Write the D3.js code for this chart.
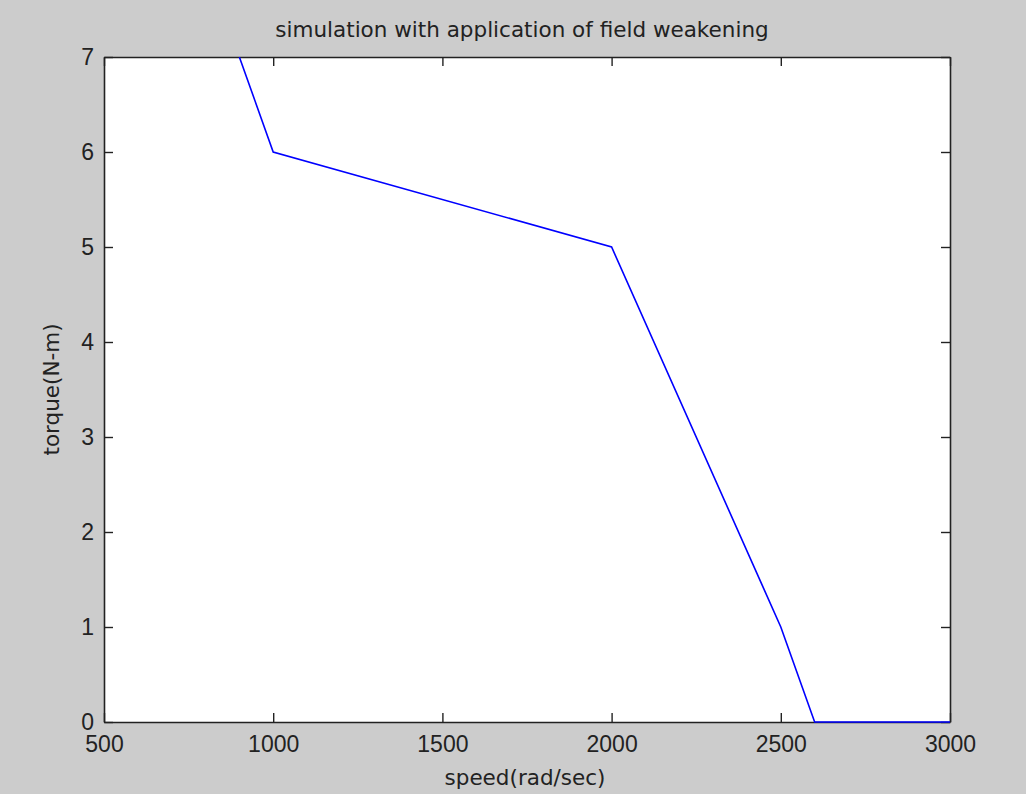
<!DOCTYPE html>
<html>
<head>
<meta charset="utf-8">
<script src="https://cdn.jsdelivr.net/npm/d3@7"></script>
<style>
  html, body { margin: 0; padding: 0; background: #cccccc; }
  svg { display: block; }
</style>
</head>
<body>
<svg id="chart" width="1026" height="794"></svg>
<script>
// Torque-speed curve with field weakening
const speed  = [900, 1000, 2000, 2500, 2600, 3000];
const torque = [7,   6,    5,    1,    0,    0];

const xTicks = [500, 1000, 1500, 2000, 2500, 3000];
const yTicks = [0, 1, 2, 3, 4, 5, 6, 7];

const titleText = "simulation with application of field weakening";
const xLabel = "speed(rad/sec)";
const yLabel = "torque(N-m)";

const plotLeft = 104, plotRight = 950, plotTop = 57, plotBottom = 722;

const svg = d3.select("#chart");

const x = d3.scaleLinear().domain([500, 3000]).range([plotLeft, plotRight]);
const y = d3.scaleLinear().domain([0, 7]).range([plotBottom, plotTop]);

// plot background
svg.append("rect")
  .attr("x", plotLeft).attr("y", plotTop)
  .attr("width", plotRight - plotLeft).attr("height", plotBottom - plotTop)
  .attr("fill", "#ffffff");

// clip region: the axes box, letting the line sit on the frame edges
svg.append("clipPath").attr("id", "plotClip")
  .append("rect")
  .attr("x", plotLeft - 1).attr("y", plotTop)
  .attr("width", plotRight - plotLeft + 2).attr("height", plotBottom - plotTop + 2);

const tickLen = 9;
const numFont = "'Liberation Sans', Arial, sans-serif";
const textFont = "'DejaVu Sans', sans-serif";

function styleAxis(g) {
  g.selectAll(".domain").attr("stroke", "#222").attr("stroke-width", 1.6);
  g.selectAll(".tick line").attr("stroke", "#222").attr("stroke-width", 1.4);
  g.selectAll(".tick text")
    .attr("fill", "#222")
    .style("font-family", numFont)
    .style("font-size", "23px");
}

// bottom axis with labels
const gx = svg.append("g")
  .attr("transform", `translate(0,${plotBottom})`)
  .call(d3.axisBottom(x).tickValues(xTicks).tickFormat(d3.format("d"))
    .tickSizeInner(-tickLen).tickSizeOuter(0).tickPadding(14));
styleAxis(gx);

// top axis, ticks only
const gxt = svg.append("g")
  .attr("transform", `translate(0,${plotTop})`)
  .call(d3.axisTop(x).tickValues(xTicks).tickFormat("")
    .tickSizeInner(-tickLen).tickSizeOuter(0));
styleAxis(gxt);

// left axis with labels
const gy = svg.append("g")
  .attr("transform", `translate(${plotLeft},0)`)
  .call(d3.axisLeft(y).tickValues(yTicks).tickFormat(d3.format("d"))
    .tickSizeInner(-tickLen).tickSizeOuter(0).tickPadding(10));
styleAxis(gy);

// right axis, ticks only
const gyr = svg.append("g")
  .attr("transform", `translate(${plotRight},0)`)
  .call(d3.axisRight(y).tickValues(yTicks).tickFormat("")
    .tickSizeInner(-tickLen).tickSizeOuter(0));
styleAxis(gyr);

// data line, drawn over the frame
const line = d3.line()
  .x((d, i) => x(speed[i]))
  .y((d, i) => y(torque[i]));

svg.append("path")
  .datum(speed)
  .attr("clip-path", "url(#plotClip)")
  .attr("d", line)
  .attr("fill", "none")
  .attr("stroke", "#0000ff")
  .attr("stroke-width", 1.6);

// title
svg.append("text")
  .attr("x", 522).attr("y", 37)
  .attr("text-anchor", "middle")
  .attr("fill", "#222")
  .style("font-family", textFont)
  .style("font-size", "21.5px")
  .text(titleText);

// x axis label
svg.append("text")
  .attr("x", 525).attr("y", 785)
  .attr("text-anchor", "middle")
  .attr("fill", "#222")
  .style("font-family", textFont)
  .style("font-size", "21.5px")
  .text(xLabel);

// y axis label
svg.append("text")
  .attr("transform", `translate(59,${(plotTop + plotBottom) / 2}) rotate(-90)`)
  .attr("text-anchor", "middle")
  .attr("fill", "#222")
  .style("font-family", textFont)
  .style("font-size", "21.5px")
  .text(yLabel);
</script>
</body>
</html>
